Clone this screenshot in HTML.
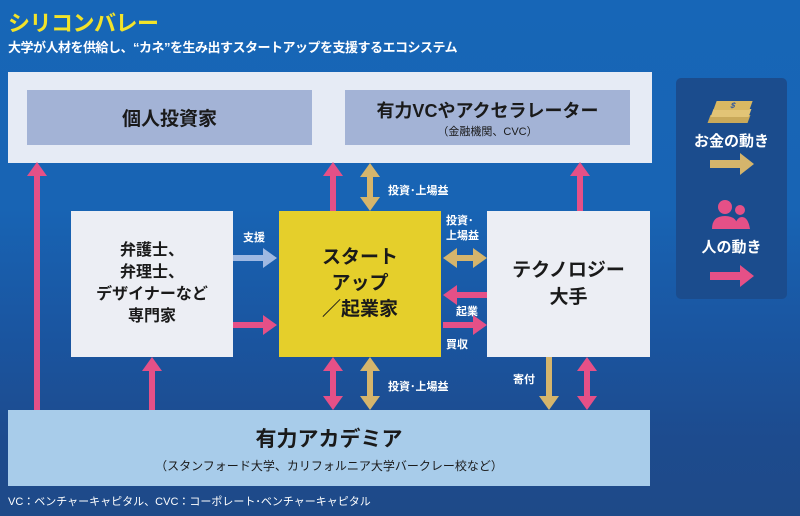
<!DOCTYPE html>
<html><head><meta charset="utf-8"><style>
*{margin:0;padding:0;box-sizing:border-box}
body{width:800px;height:516px;overflow:hidden;position:relative;font-family:"Liberation Sans","Noto Sans CJK JP",sans-serif;background:linear-gradient(180deg,#1766b7 0%,#1864b4 40%,#1a55a0 65%,#1d4b8e 85%,#1e4a88 100%)}
.a{position:absolute}
.t{display:flex;flex-direction:column;align-items:center;justify-content:center;text-align:center;color:#1a1a1a;font-weight:bold}
</style></head><body>
<div class="a" style="left:8px;top:6px;font-size:22px;font-weight:bold;color:#f2e32a;letter-spacing:-0.5px">シリコンバレー</div>
<div class="a" style="left:8px;top:37px;font-size:13px;font-weight:bold;color:#fff;letter-spacing:-0.5px">大学が人材を供給し、“カネ”を生み出すスタートアップを支援するエコシステム</div>

<div class="a" style="left:8px;top:72px;width:644px;height:91px;background:#e6ebf5"></div>
<div class="a t" style="left:27px;top:90px;width:285px;height:55px;background:#a3b3d6;font-size:19px">個人投資家</div>
<div class="a t" style="left:345px;top:90px;width:285px;height:55px;background:#a3b3d6;font-size:18px">有力VCやアクセラレーター<span style="font-size:11px;font-weight:normal">（金融機関、CVC）</span></div>

<div class="a" style="left:676px;top:78px;width:111px;height:221px;background:#1b4c8d;border-radius:5px"></div>
<div class="a" style="left:709px;top:101px;width:40px;height:26px">
<div class="a" style="left:0;top:14px;width:40px;height:8px;background:#c9a95a;transform:skewX(-20deg)"></div>
<div class="a" style="left:3px;top:8px;width:38px;height:8px;background:#e2c476;transform:skewX(-20deg)"></div>
<div class="a" style="left:6px;top:0;width:36px;height:9px;background:#d9b862;transform:skewX(-20deg);font-size:8px;color:#2b55a0;text-align:center;font-weight:bold">$</div></div>
<div class="a" style="left:676px;top:130px;width:111px;text-align:center;color:#fff;font-size:15px;font-weight:bold">お金の動き</div>
<svg class="a" style="left:710px;top:152px" width="46" height="24"><path d="M0 8h30v-7l14 11-14 11v-7H0z" fill="#d5b56c"/></svg>
<svg class="a" style="left:712px;top:198px" width="38" height="32"><circle cx="13" cy="9" r="7" fill="#e55087"/><path d="M0 31q0-13 13-13t13 13z" fill="#e55087"/><circle cx="28" cy="12" r="5" fill="#e55087"/><path d="M22 31q2-12 8-12t8 12z" fill="#e55087"/></svg>
<div class="a" style="left:676px;top:236px;width:111px;text-align:center;color:#fff;font-size:15px;font-weight:bold">人の動き</div>
<svg class="a" style="left:710px;top:264px" width="46" height="24"><path d="M0 8h30v-7l14 11-14 11v-7H0z" fill="#e55087"/></svg>

<div class="a t" style="left:71px;top:211px;width:162px;height:146px;background:#eceef4;font-size:16px;line-height:22px">弁護士、<br>弁理士、<br>デザイナーなど<br>専門家</div>
<div class="a t" style="left:279px;top:211px;width:162px;height:146px;background:#e5cf2b;font-size:19px;line-height:26px">スタート<br>アップ<br>／起業家</div>
<div class="a t" style="left:487px;top:211px;width:163px;height:146px;background:#eceef4;font-size:19px;line-height:27px">テクノロジー<br>大手</div>

<div class="a t" style="left:8px;top:410px;width:642px;height:76px;background:#a8ccea;font-size:21px">有力アカデミア<span style="font-size:12px;font-weight:normal;margin-top:4px">（スタンフォード大学、カリフォルニア大学バークレー校など）</span></div>

<svg class="a" style="left:0;top:0" width="800" height="516">
<g fill="#e55087">
<path d="M34 410V176h-7l10-14 10 14h-7v234z"/>
<path d="M330 211v-35h-7l10-14 10 14h-7v35z"/>
<path d="M577 211v-35h-7l10-14 10 14h-7v35z"/>
<path d="M149 410v-39h-7l10-14 10 14h-7v39z"/>
<path d="M330 371h-7l10-14 10 14h-7v25h7l-10 14-10-14h7z"/>
<path d="M584 371h-7l10-14 10 14h-7v25h7l-10 14-10-14h7z"/>
<path d="M233 322h30v-7l14 10-14 10v-7h-30z"/>
<path d="M487 292h-30v-7l-14 10 14 10v-7h30z"/>
<path d="M443 322h30v-7l14 10-14 10v-7h-30z"/>
</g>
<g fill="#d5b56c">
<path d="M367 177h-7l10-14 10 14h-7v20h7l-10 14-10-14h7z"/>
<path d="M367 371h-7l10-14 10 14h-7v25h7l-10 14-10-14h7z"/>
<path d="M546 357h6v39h7l-10 14-10-14h7z"/>
<path d="M457 255v-7l-14 10 14 10v-7h16v7l14-10-14-10v7z"/>
</g>
<path d="M233 255h30v-7l14 10-14 10v-7h-30z" fill="#9fb9e2"/>
<g fill="#fff" font-weight="bold" font-size="11" font-family="Liberation Sans,Noto Sans CJK JP,sans-serif">
<text x="388" y="194">投資･上場益</text>
<text x="388" y="390">投資･上場益</text>
<text x="446" y="224">投資･</text>
<text x="446" y="239">上場益</text>
<text x="243" y="241">支援</text>
<text x="456" y="315">起業</text>
<text x="446" y="348">買収</text>
<text x="513" y="383">寄付</text>
</g>
</svg>
<div class="a" style="left:8px;top:493px;font-size:11px;color:#fff">VC：ベンチャーキャピタル、CVC：コーポレート･ベンチャーキャピタル</div>
</body></html>
